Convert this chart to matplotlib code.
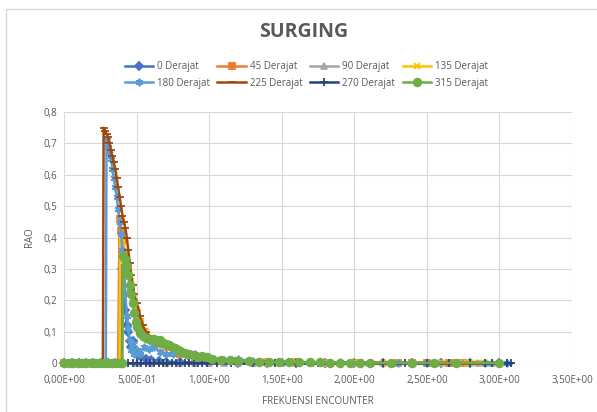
import matplotlib
matplotlib.use("Agg")
import matplotlib.pyplot as plt
from matplotlib.ticker import FuncFormatter, MultipleLocator
from matplotlib.patches import Rectangle

plt.rcParams['font.family'] = ['Open Sans', 'DejaVu Sans']

# data: encounter frequency (x) and RAO (y) per heading
x_0 = [0, 0.05, 0.10, 0.15, 0.20, 0.25, 0.30, 0.35, 0.39,
       0.40, 0.41, 0.42, 0.43, 0.44, 0.45, 0.46, 0.47, 0.48,
       0.50, 0.53, 0.56, 0.60, 0.65, 0.70, 0.80, 0.90, 1.00,
       1.20, 1.40, 1.60, 1.80, 2.00, 2.20, 2.40, 2.60, 2.80, 3.00]
y_0 = [0, 0, 0, 0, 0, 0, 0, 0, 0,
       0.30, 0.22, 0.17, 0.12, 0.10, 0.07, 0.05, 0.07, 0.04,
       0.03, 0.02, 0.012, 0.008, 0.005, 0.004, 0.003, 0.002, 0.002,
       0.001, 0, 0, 0, 0, 0, 0, 0, 0, 0]

x_45 = [0, 0.05, 0.10, 0.15, 0.20, 0.25, 0.30, 0.35, 0.37,
        0.38, 0.39, 0.40, 0.42, 0.44, 0.46, 0.48, 0.50, 0.52, 0.55,
        0.60, 0.65, 0.70, 0.80, 0.90, 1.00,
        1.20, 1.40, 1.60, 1.80, 2.00, 2.30, 2.40, 2.50, 2.65, 2.70, 2.75]
y_45 = [0, 0, 0, 0, 0, 0, 0, 0, 0,
        0.46, 0.42, 0.39, 0.34, 0.30, 0.24, 0.19, 0.16, 0.13, 0.10,
        0.075, 0.06, 0.05, 0.03, 0.02, 0.01,
        0.005, 0.003, 0.002, 0.001, 0, 0, 0, 0, 0, 0, 0]

x_90 = [0, 0.1, 0.2, 0.3, 0.4, 0.5, 0.6, 0.7, 0.8, 0.9, 1.0, 1.1, 1.2, 1.3, 1.4, 1.5,
        1.6, 1.7, 1.8, 1.9, 2.0, 2.1, 2.2, 2.3, 2.4, 2.5, 2.6, 2.7, 2.8, 2.85, 2.9, 2.95]
y_90 = [0, 0, 0, 0, 0, 0, 0, 0, 0, 0, 0, 0, 0, 0, 0, 0,
        0, 0, 0, 0, 0, 0, 0, 0, 0, 0, 0, 0, 0, 0, 0, 0]

x_135 = [0, 0.05, 0.10, 0.15, 0.20, 0.25, 0.30, 0.35, 0.38,
         0.385, 0.40, 0.42, 0.44, 0.46, 0.48, 0.50, 0.53, 0.56,
         0.60, 0.65, 0.70, 0.80, 0.90, 1.00,
         1.20, 1.40, 1.60, 1.80, 2.00, 2.20, 2.40, 2.60, 2.75, 2.80, 2.85, 2.90]
y_135 = [0, 0, 0, 0, 0, 0, 0, 0, 0,
         0.45, 0.40, 0.35, 0.31, 0.26, 0.21, 0.17, 0.13, 0.10,
         0.08, 0.065, 0.05, 0.035, 0.02, 0.01,
         0.005, 0.003, 0.002, 0.001, 0, 0, 0, 0, 0, 0, 0, 0]

x_180 = [0, 0.05, 0.10, 0.15, 0.20, 0.25, 0.285,
         0.29, 0.30, 0.31, 0.32, 0.33, 0.34, 0.35, 0.36, 0.37, 0.38,
         0.39, 0.40, 0.41, 0.42, 0.43, 0.44, 0.45, 0.46, 0.47, 0.48,
         0.50, 0.52, 0.55, 0.58, 0.62, 0.66, 0.70, 0.75, 0.80, 0.85, 0.90, 0.95, 1.00,
         1.10, 1.20, 1.30, 1.50, 1.70, 1.90, 2.10, 2.30, 2.50, 2.70, 2.90, 3.05]
y_180 = [0, 0, 0, 0, 0, 0, 0,
         0.71, 0.69, 0.67, 0.65, 0.62, 0.59, 0.56, 0.53, 0.49, 0.45,
         0.41, 0.36, 0.30, 0.22, 0.15, 0.11, 0.07, 0.04, 0.06, 0.03,
         0.04, 0.03, 0.05, 0.045, 0.05, 0.035, 0.03, 0.028, 0.035, 0.022, 0.03, 0.018, 0.02,
         0.01, 0.012, 0.005, 0.003, 0.002, 0.002, 0.001, 0, 0, 0, 0, 0]

x_225 = [0, 0.05, 0.10, 0.15, 0.20, 0.25, 0.265,
         0.27, 0.28, 0.29, 0.30, 0.31, 0.32, 0.33, 0.34, 0.35, 0.36, 0.37,
         0.38, 0.39, 0.40, 0.41, 0.42, 0.43, 0.44, 0.45, 0.46, 0.47, 0.48,
         0.50, 0.52, 0.54, 0.56, 0.60, 0.65, 0.70, 0.75, 0.80, 0.85, 0.90,
         1.00, 1.10, 1.20, 1.40, 1.60, 1.80, 2.00, 2.20, 2.40, 2.60, 2.80, 3.00]
y_225 = [0, 0, 0, 0, 0, 0, 0,
         0.75, 0.74, 0.73, 0.72, 0.70, 0.68, 0.66, 0.64, 0.62, 0.59, 0.56,
         0.53, 0.50, 0.47, 0.45, 0.43, 0.40, 0.36, 0.32, 0.28, 0.25, 0.22,
         0.19, 0.15, 0.12, 0.10, 0.08, 0.07, 0.06, 0.045, 0.035, 0.025, 0.02,
         0.012, 0.008, 0.005, 0.003, 0.002, 0.001, 0, 0, 0, 0, 0, 0]

x_270 = [0, 0.1, 0.2, 0.3, 0.4, 0.44, 0.47,
         0.50, 0.53, 0.56, 0.59, 0.62, 0.65, 0.68, 0.71, 0.74, 0.77, 0.80,
         0.83, 0.86, 0.89, 0.92, 0.95, 0.98,
         1.05, 1.15, 1.30, 1.45, 1.60, 1.75, 1.90, 2.05, 2.20, 2.35, 2.50, 2.65, 2.80,
         2.90, 2.95, 3.00, 3.05, 3.08]
y_270 = [0, 0, 0, 0, 0, 0, 0,
         0, 0, 0, 0, 0, 0, 0, 0, 0, 0, 0,
         0, 0, 0, 0, 0, 0,
         0, 0, 0, 0, 0, 0, 0, 0, 0, 0, 0, 0, 0,
         0, 0, 0, 0, 0]

x_315 = [0, 0.03, 0.06, 0.09, 0.12, 0.15, 0.18, 0.21, 0.24, 0.27, 0.30, 0.33, 0.36, 0.39, 0.40,
         0.405, 0.42, 0.43, 0.44, 0.45, 0.46, 0.47, 0.48, 0.49, 0.50,
         0.52, 0.54, 0.56, 0.58, 0.60, 0.62, 0.64, 0.66, 0.68, 0.70, 0.72, 0.74, 0.76, 0.78, 0.80,
         0.83, 0.86, 0.89, 0.92, 0.95, 0.98,
         1.02, 1.08, 1.14, 1.20,
         1.27, 1.34, 1.41, 1.48, 1.55, 1.62, 1.69, 1.76, 1.83, 1.90, 1.97, 2.04, 2.11,
         2.25, 2.40, 2.55, 2.70, 3.00]
y_315 = [0, 0, 0, 0, 0, 0, 0, 0, 0, 0, 0, 0, 0, 0, 0,
         0.34, 0.33, 0.31, 0.28, 0.25, 0.22, 0.19, 0.16, 0.13, 0.115,
         0.095, 0.085, 0.08, 0.075, 0.072, 0.075, 0.07, 0.072, 0.065, 0.06, 0.058, 0.052, 0.048, 0.042, 0.038,
         0.032, 0.028, 0.025, 0.02, 0.022, 0.018,
         0.012, 0.01, 0.008, 0.006,
         0.005, 0.004, 0.004, 0.003, 0.003, 0.002, 0.002, 0.002, 0.001, 0.001, 0.001, 0, 0,
         0, 0, 0, 0, 0]

series = [
    ("0 Derajat", x_0, y_0, "#4472C4", "D", 4.5),
    ("45 Derajat", x_45, y_45, "#ED7D31", "s", 5),
    ("90 Derajat", x_90, y_90, "#A5A5A5", "^", 5),
    ("135 Derajat", x_135, y_135, "#FFC000", "x", 5),
    ("180 Derajat", x_180, y_180, "#5B9BD5", (6, 2, 0), 5.5),
    ("225 Derajat", x_225, y_225, "#9E480E", "_", 5.5),
    ("270 Derajat", x_270, y_270, "#264478", "+", 6),
    ("315 Derajat", x_315, y_315, "#70AD47", "o", 5.5),
]

fig = plt.figure(figsize=(5.97, 4.12), dpi=100)
# light chart border (Excel chart area)
fig.patches.append(Rectangle((6 / 597, -0.05), 1.1, 0.978 + 0.05, transform=fig.transFigure,
                             fill=False, edgecolor="#D9D9D9", linewidth=1))

ax = fig.add_axes([0.108, 0.119, 0.85, 0.609])
handles = []
for name, xs, ys, col, mk, ms in series:
    h, = ax.plot(xs, ys, color=col, lw=1.8, marker=mk, markersize=ms,
                 markeredgecolor=col, markerfacecolor=col, markeredgewidth=1.3,
                 label=name, clip_on=False)
    handles.append(h)

ax.set_xlim(0, 3.5)
ax.set_ylim(0, 0.8)
ax.xaxis.set_major_locator(MultipleLocator(0.5))
ax.yaxis.set_major_locator(MultipleLocator(0.1))
ax.xaxis.set_major_formatter(FuncFormatter(lambda v, p: format(v, ".2E").replace(".", ",")))
ax.yaxis.set_major_formatter(FuncFormatter(lambda v, p: "0" if abs(v) < 1e-9 else format(v, ".1f").replace(".", ",")))
ax.grid(True, color="#D9D9D9", lw=0.8)
ax.set_axisbelow(True)
for s in ax.spines.values():
    s.set_visible(False)
ax.tick_params(length=0, labelsize=7, labelcolor="#595959")
ax.tick_params(axis="x", pad=9)
ax.tick_params(axis="y", pad=5)

ax.set_xlabel("FREKUENSI ENCOUNTER", fontsize=7, color="#595959", labelpad=7)
ax.set_ylabel("RAO", fontsize=7, color="#595959", labelpad=6)

fig.text(0.508, 0.922, "SURGING", ha="center", va="center", fontsize=14,
         fontweight="bold", color="#595959")

# legend filled row by row: 0,45,90,135 / 180,225,270,315
order = [0, 4, 1, 5, 2, 6, 3, 7]
fig.legend([handles[i] for i in order], [series[i][0] for i in order],
           loc="center", bbox_to_anchor=(0.513, 0.818), ncol=4, frameon=False,
           fontsize=7, handlelength=2.9, columnspacing=0.8, handletextpad=0.4,
           labelspacing=0.55, labelcolor="#595959")

fig.savefig("out.png", dpi=100)
